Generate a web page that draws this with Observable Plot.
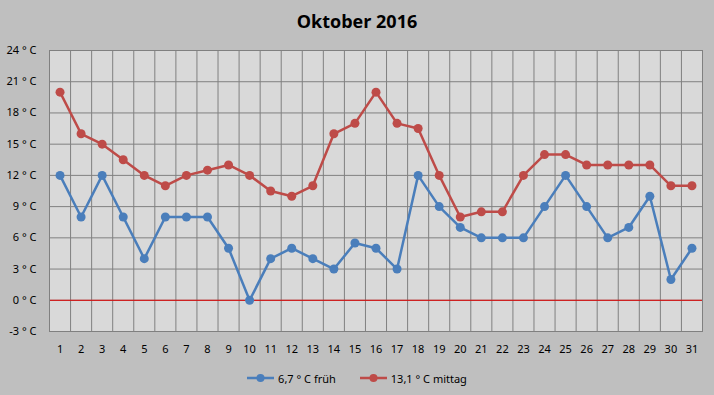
<!DOCTYPE html>
<html>
<head>
<meta charset="utf-8">
<script src="https://cdn.jsdelivr.net/npm/d3@7"></script>
<script src="https://cdn.jsdelivr.net/npm/@observablehq/plot@0.6"></script>
<style>
  html, body { margin: 0; padding: 0; background: #bfbfbf; width: 714px; height: 395px; overflow: hidden; }
  #title { height: 36px; box-sizing: border-box; padding-top: 9px; line-height: 24px; text-align: center; font: bold 18px "Open Sans", sans-serif; color: #000; }
  #chart svg { display: block; }
  #legend { height: 34px; display: flex; justify-content: center; align-items: center; font: 11px "Noto Sans", sans-serif; color: #000; gap: 0; }
  .item { display: flex; align-items: center; margin: 0 12px; }
  .item svg { margin-right: 4px; }
</style>
</head>
<body>
<div id="title">Oktober 2016</div>
<div id="chart"></div>
<div id="legend"></div>
<script>
const days = d3.range(1, 32);
const frueh = [12, 8, 12, 8, 4, 8, 8, 8, 5, 0, 4, 5, 4, 3, 5.5, 5, 3, 12, 9, 7, 6, 6, 6, 9, 12, 9, 6, 7, 10, 2, 5];
const mittag = [20, 16, 15, 13.5, 12, 11, 12, 12.5, 13, 12, 10.5, 10, 11, 16, 17, 20, 17, 16.5, 12, 8, 8.5, 8.5, 12, 14, 14, 13, 13, 13, 13, 11, 11];
const yTicks = [-3, 0, 3, 6, 9, 12, 15, 18, 21, 24];
const seriesNames = ["6,7 ° C früh", "13,1 ° C mittag"];
const colors = ["#4a7ebb", "#be4b48"];

const data = [];
days.forEach((d, i) => {
  data.push({day: d, value: frueh[i], series: seriesNames[0]});
  data.push({day: d, value: mittag[i], series: seriesNames[1]});
});
const edges = [0.5, ...days.map(d => d + 0.5)];

const plot = Plot.plot({
  width: 714,
  height: 325,
  marginLeft: 49,
  marginRight: 12,
  marginTop: 14,
  marginBottom: 30,
  style: {background: "transparent", fontSize: "11px", fontFamily: "Noto Sans, sans-serif", color: "#000"},
  x: {domain: [0.5, 31.5], ticks: days, tickFormat: d => String(d), tickSize: 0, tickPadding: 14, label: null},
  y: {domain: [-3, 24], ticks: yTicks, tickFormat: d => `${d} ° C`, tickSize: 0, tickPadding: 13, label: null},
  color: {domain: seriesNames, range: colors},
  marks: [
    Plot.frame({fill: "#d9d9d9", stroke: null}),
    Plot.ruleX(edges, {stroke: "#808080", strokeWidth: 1, strokeOpacity: 1}),
    Plot.ruleY(yTicks, {stroke: "#808080", strokeWidth: 1, strokeOpacity: 1}),
    Plot.ruleY([0], {stroke: "#e00000", strokeWidth: 1}),
    Plot.frame({stroke: "#808080", strokeWidth: 1}),
    Plot.line(data, {x: "day", y: "value", z: "series", stroke: "series", strokeWidth: 2.5}),
    Plot.dot(data, {x: "day", y: "value", fill: "series", r: 4.5})
  ]
});
document.getElementById("chart").appendChild(plot);

const legend = document.getElementById("legend");
seriesNames.forEach((name, i) => {
  const item = document.createElement("div");
  item.className = "item";
  item.innerHTML = `<svg width="27" height="10"><line x1="0" y1="5" x2="27" y2="5" stroke="${colors[i]}" stroke-width="2.5"/><circle cx="13.5" cy="5" r="4" fill="${colors[i]}"/></svg><span>${name}</span>`;
  legend.appendChild(item);
});
</script>
</body>
</html>
